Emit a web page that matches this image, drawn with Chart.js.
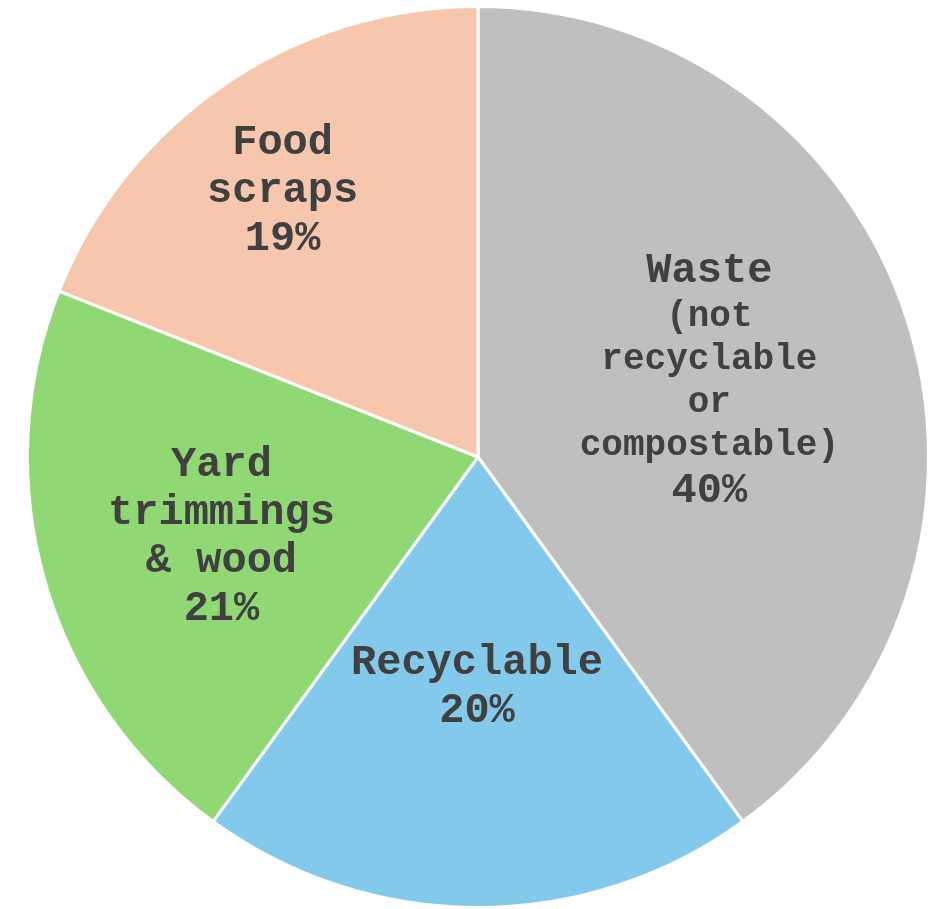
<!DOCTYPE html>
<html>
<head>
<meta charset="utf-8">
<script src="https://cdn.jsdelivr.net/npm/chart.js@4"></script>
<style>
html,body{margin:0;padding:0;background:#ffffff;}
#wrap{width:939px;height:909px;}
</style>
</head>
<body>
<div id="wrap"><canvas id="c" width="939" height="909"></canvas></div>
<script>
const categories = ["Waste (not recyclable or compostable)", "Recyclable", "Yard trimmings & wood", "Food scraps"];
const values = [40, 20, 21, 19];
const titleLines = [["Waste"], ["Recyclable"], ["Yard", "trimmings", "& wood"], ["Food", "scraps"]];
const subLines = [["(not", "recyclable", "or", "compostable)"], [], [], []];
const colors = ["#BFBFBF", "#82C9EB", "#8FD873", "#F6C6AD"];

const labelPlugin = {
  id: 'sliceLabels',
  afterDatasetsDraw(chart, args, opts) {
    const ctx = chart.ctx;
    const meta = chart.getDatasetMeta(0);
    meta.data.forEach((arc, i) => {
      const p = arc.getProps(['x','y','startAngle','endAngle','outerRadius'], true);
      const mid = (p.startAngle + p.endAngle) / 2;
      const rr = p.outerRadius * opts.radiusFrac[i];
      const cx = p.x + Math.cos(mid) * rr + opts.dx[i];
      const cy = p.y + Math.sin(mid) * rr + opts.dy[i];
      const lines = [];
      titleLines[i].forEach(t => lines.push({t, size: opts.bigSize, lh: opts.bigLH}));
      subLines[i].forEach(t => lines.push({t, size: opts.smallSize, lh: opts.smallLH}));
      lines.push({t: values[i] + '%', size: opts.bigSize, lh: opts.bigLH});
      let total = 0;
      for (let k = 1; k < lines.length; k++) total += (lines[k-1].lh + lines[k].lh) / 2;
      let y = cy - total / 2;
      ctx.save();
      ctx.fillStyle = opts.color;
      ctx.textAlign = 'center';
      ctx.textBaseline = 'middle';
      lines.forEach((ln, k) => {
        if (k > 0) y += (lines[k-1].lh + ln.lh) / 2;
        ctx.font = 'bold ' + ln.size + 'px "Courier New", "Liberation Mono", monospace';
        ctx.fillText(ln.t, cx, y);
      });
      ctx.restore();
    });
  }
};

new Chart(document.getElementById('c'), {
  type: 'pie',
  data: {
    labels: categories,
    datasets: [{
      data: values,
      backgroundColor: colors,
      borderColor: '#ffffff',
      borderWidth: 3
    }]
  },
  options: {
    responsive: false,
    animation: false,
    layout: { padding: { left: 26, right: 9, top: 5, bottom: 0 } },
    plugins: {
      legend: { display: false },
      tooltip: { enabled: false },
      sliceLabels: {
        radiusFrac: [0.54, 0.51, 0.6, 0.74],
        dx: [0, -1, 3, -8],
        dy: [0, 1, 5, 10],
        color: '#404040',
        bigSize: 42,
        smallSize: 36,
        bigLH: 48,
        smallLH: 43
      }
    }
  },
  plugins: [labelPlugin]
});
</script>
</body>
</html>
